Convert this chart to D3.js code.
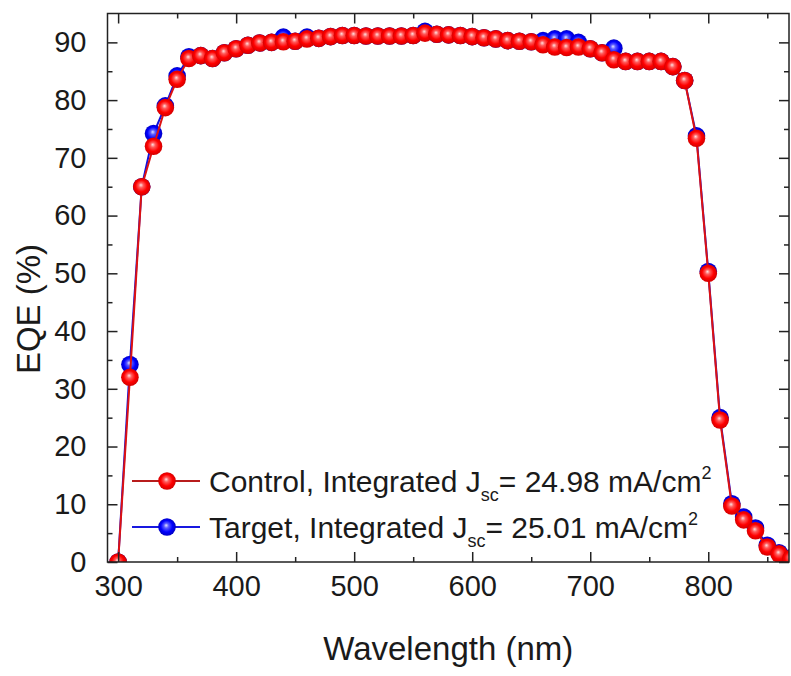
<!DOCTYPE html>
<html>
<head>
<meta charset="utf-8">
<script src="https://cdn.jsdelivr.net/npm/d3@7"></script>
<style>
  body { margin: 0; background: #fff; }
  text { font-family: "Liberation Sans", Arial, sans-serif; fill: #1a1a1a; }
</style>
</head>
<body>
<div id="chart"></div>
<script>
// wavelength (nm)
const wavelength = [300, 310, 320, 330, 340, 350, 360, 370, 380, 390, 400, 410, 420, 430, 440, 450,
  460, 470, 480, 490, 500, 510, 520, 530, 540, 550, 560, 570, 580, 590, 600, 610, 620, 630, 640, 650,
  660, 670, 680, 690, 700, 710, 720, 730, 740, 750, 760, 770, 780, 790, 800, 810, 820, 830, 840, 850,
  860, 870];

const controlEQE = [0, 32, 65, 72, 78.7, 83.6, 87.2, 87.7, 87.2, 88.2, 88.9, 89.5, 89.9, 90.0, 90.1, 90.2,
  90.6, 90.7, 91.0, 91.2, 91.2, 91.1, 91.1, 91.1, 91.1, 91.2, 91.6, 91.4, 91.3, 91.2, 91.0, 90.8, 90.6, 90.3, 90.2, 90.1,
  89.6, 89.2, 89.1, 89.2, 88.9, 88.2, 87.0, 86.7, 86.7, 86.7, 86.7, 85.8, 83.4, 73.4, 50.0, 24.6, 9.7, 7.3, 5.4, 2.6,
  1.4, 0.6];

const targetEQE = [0, 34.2, 65, 74.2, 79, 84.2, 87.5, 87.7, 87.2, 88.2, 88.9, 89.5, 89.9, 90.0, 90.9, 90.2,
  90.9, 90.7, 91.0, 91.2, 91.2, 91.1, 91.1, 91.1, 91.1, 91.2, 91.9, 91.4, 91.3, 91.2, 91.0, 90.8, 90.6, 90.3, 90.2, 90.1,
  90.3, 90.6, 90.6, 90.0, 88.9, 88.2, 89.0, 86.7, 86.7, 86.7, 86.7, 85.8, 83.4, 73.8, 50.3, 25.0, 10.1, 7.8, 5.9, 2.9,
  1.6, 0.7];

const xTicks = [300, 400, 500, 600, 700, 800];
const xMinorTicks = [350, 450, 550, 650, 750, 850];
const yTicks = [0, 10, 20, 30, 40, 50, 60, 70, 80, 90];
const yMinorTicks = [5, 15, 25, 35, 45, 55, 65, 75, 85];

const seriesNames = ["Control", "Target"];
const jscValues = ["24.98", "25.01"];

const width = 791, height = 676;
const margin = { top: 13.5, right: 2, bottom: 114, left: 107.5 };
const innerWidth = width - margin.left - margin.right;
const innerHeight = height - margin.top - margin.bottom;

const svg = d3.select("#chart").append("svg")
  .attr("width", width)
  .attr("height", height);

const defs = svg.append("defs");
defs.append("clipPath").attr("id", "plot-clip")
  .append("rect").attr("width", innerWidth).attr("height", innerHeight);

// ball-like marker fills
const ballColors = {
  Control: ["#ffe0e0", "#ff5a5a", "#ff0000", "#c80000"],
  Target: ["#e0e0ff", "#5a5aff", "#0000ff", "#0000b4"]
};
Object.entries(ballColors).forEach(([name, c]) => {
  const grad = defs.append("radialGradient").attr("id", "ball-" + name)
    .attr("cx", "50%").attr("cy", "50%").attr("r", "55%")
    .attr("fx", "45%").attr("fy", "40%");
  grad.append("stop").attr("offset", "0%").attr("stop-color", c[0]);
  grad.append("stop").attr("offset", "25%").attr("stop-color", c[1]);
  grad.append("stop").attr("offset", "60%").attr("stop-color", c[2]);
  grad.append("stop").attr("offset", "100%").attr("stop-color", c[3]);
});

const lineColor = { Control: "#dd1111", Target: "#1010dd" };
const markerR = 8.8;

const x = d3.scaleLinear().domain([291, 868.4]).range([0, innerWidth]);
const y = d3.scaleLinear().domain([0, 95]).range([innerHeight, 0]);

const g = svg.append("g").attr("transform", `translate(${margin.left},${margin.top})`);

// data
const series = [
  { name: "Target", values: targetEQE },
  { name: "Control", values: controlEQE }
];

const plot = g.append("g").attr("clip-path", "url(#plot-clip)");
const line = d3.line().x((d) => x(d[0])).y((d) => y(d[1]));

series.forEach((s) => {
  const pts = wavelength.map((w, i) => [w, s.values[i]]);
  plot.append("path")
    .datum(pts)
    .attr("d", line)
    .attr("fill", "none")
    .attr("stroke", lineColor[s.name])
    .attr("stroke-width", 2);
  plot.append("g")
    .selectAll("circle")
    .data(pts)
    .join("circle")
    .attr("cx", (d) => x(d[0]))
    .attr("cy", (d) => y(d[1]))
    .attr("r", markerR)
    .attr("fill", `url(#ball-${s.name})`);
});

// frame
g.append("rect")
  .attr("width", innerWidth).attr("height", innerHeight)
  .attr("fill", "none").attr("stroke", "#222").attr("stroke-width", 1.5);

// ticks (inward, all four sides)
const bottomAxis = g.append("g").attr("transform", `translate(0,${innerHeight})`)
  .call(d3.axisBottom(x).tickValues(xTicks).tickSizeInner(-10).tickSizeOuter(0).tickPadding(13));
const bottomMinor = g.append("g").attr("transform", `translate(0,${innerHeight})`)
  .call(d3.axisBottom(x).tickValues(xMinorTicks).tickSizeInner(-5).tickSizeOuter(0));
const topAxis = g.append("g")
  .call(d3.axisTop(x).tickValues(xTicks).tickSizeInner(-10).tickSizeOuter(0));
const topMinor = g.append("g")
  .call(d3.axisTop(x).tickValues(xMinorTicks).tickSizeInner(-5).tickSizeOuter(0));
const leftAxis = g.append("g")
  .call(d3.axisLeft(y).tickValues(yTicks).tickSizeInner(-10).tickSizeOuter(0).tickPadding(21));
const leftMinor = g.append("g")
  .call(d3.axisLeft(y).tickValues(yMinorTicks).tickSizeInner(-5).tickSizeOuter(0));
const rightAxis = g.append("g").attr("transform", `translate(${innerWidth},0)`)
  .call(d3.axisRight(y).tickValues(yTicks).tickSizeInner(-10).tickSizeOuter(0));
const rightMinor = g.append("g").attr("transform", `translate(${innerWidth},0)`)
  .call(d3.axisRight(y).tickValues(yMinorTicks).tickSizeInner(-5).tickSizeOuter(0));

// only bottom and left major ticks keep their labels
[bottomMinor, topAxis, topMinor, leftMinor, rightAxis, rightMinor].forEach((a) => a.selectAll(".tick text").remove());

g.selectAll(".domain").remove();
g.selectAll(".tick line").attr("stroke", "#222").attr("stroke-width", 1.5);
g.selectAll(".tick text")
  .style("font-family", "'Liberation Sans', Arial, sans-serif")
  .style("font-size", "29px")
  .attr("fill", "#1a1a1a");

// axis titles
svg.append("text")
  .attr("x", margin.left + innerWidth / 2)
  .attr("y", 660)
  .attr("text-anchor", "middle")
  .style("font-size", "33px")
  .text("Wavelength (nm)");

svg.append("text")
  .attr("transform", "translate(40,309) rotate(-90)")
  .attr("text-anchor", "middle")
  .style("font-size", "33px")
  .text("EQE (%)");

// legend
const legend = svg.append("g").attr("transform", "translate(132,481)");
seriesNames.forEach((name, i) => {
  const row = legend.append("g").attr("transform", `translate(0,${i * 46})`);
  row.append("line")
    .attr("x1", 0).attr("x2", 68)
    .attr("stroke", name === "Control" ? "#b81c1c" : "#1818e0")
    .attr("stroke-width", 2);
  row.append("circle").attr("cx", 35).attr("r", markerR).attr("fill", `url(#ball-${name})`);
  const t = row.append("text").attr("x", 77).attr("y", 11).style("font-size", "30px");
  t.append("tspan").text(`${name}, Integrated J`);
  t.append("tspan").attr("dy", 9).style("font-size", "18px").text("sc");
  t.append("tspan").attr("dy", -9).text(`= ${jscValues[i]} mA/cm`);
  t.append("tspan").attr("dy", -13).style("font-size", "18px").text("2");
});
</script>
</body>
</html>
